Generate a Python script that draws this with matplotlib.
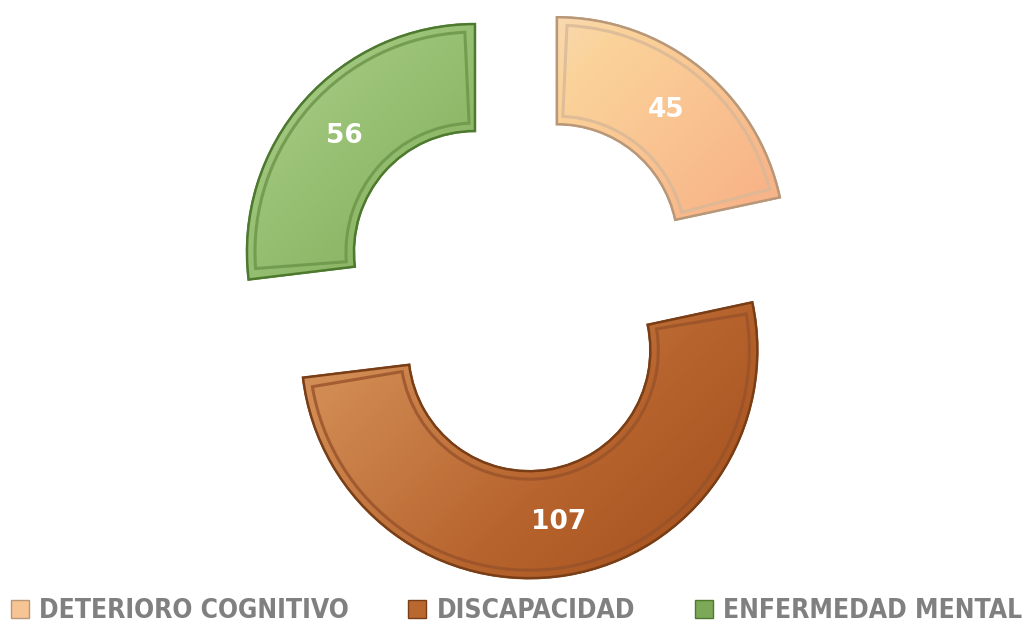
import numpy as np
import matplotlib.pyplot as plt
from matplotlib.colors import LinearSegmentedColormap
from matplotlib.patches import Patch, Wedge

# data
labels = ['DETERIORO COGNITIVO', 'DISCAPACIDAD', 'ENFERMEDAD MENTAL']
values = [45, 107, 56]
base_colors = ['#f7c494', '#b9682f', '#7da857']
grad_colors = [['#f6eaf4', '#fbd39a', '#f8b488', '#f7c49a'],
               ['#e2a878', '#d08a52', '#b8642e', '#a04e1c'],
               ['#acd08c', '#90ba6a', '#78a452', '#66923d']]
edge_colors = ['#b89878', '#7a3e16', '#4e7a30']
bevel_colors = ['#d8b898', '#98522a', '#6a9448']

total = sum(values)

fig = plt.figure(figsize=(10.33, 6.24), dpi=100)
ax = fig.add_axes([0, 0, 1, 1])

R = 228
W = 107
cx, cy = 519.5, 624 - 291.5
wedges, texts, autotexts = ax.pie(
    values, radius=R, center=(cx, cy), startangle=90, counterclock=False,
    explode=[59.5] * 3, colors=base_colors,
    wedgeprops=dict(width=W, linewidth=1.5),
    autopct=lambda p: '{:d}'.format(int(round(p * total / 100))),
    pctdistance=0.765, textprops=dict(color='white', fontsize=19, fontweight='bold'))

ax.set_xlim(0, 1033)
ax.set_ylim(0, 624)
ax.set_aspect('equal')
ax.axis('off')

gx, gy = np.meshgrid(np.linspace(0, 1, 200), np.linspace(0, 1, 200))
grad = (gx + gy) / 2

for w, gc, ec, bc in zip(wedges, grad_colors, edge_colors, bevel_colors):
    w.set_edgecolor(ec)
    z = w.get_zorder()
    cmap = LinearSegmentedColormap.from_list('g', gc)
    wx, wy = w.center
    im = ax.imshow(grad, cmap=cmap, origin='upper', aspect='auto',
                   extent=(wx - R, wx + R, wy - R, wy + R), zorder=z + 0.1)
    im.set_clip_path(w)
    ax.add_patch(Wedge(w.center, w.r, w.theta1, w.theta2, width=W, fill=False,
                       edgecolor=ec, linewidth=1.8, zorder=z + 0.3))
    # inner bevel line
    ins = 8
    dth = np.degrees(ins / (R - W / 2))
    ax.add_patch(Wedge(w.center, w.r - ins, w.theta1 + dth, w.theta2 - dth,
                       width=W - 2 * ins, fill=False, edgecolor=bc,
                       linewidth=2.2, alpha=0.8, zorder=z + 0.2))

for t in autotexts:
    t.set_zorder(10)

handles = [Patch(facecolor=c, edgecolor=e, linewidth=1) for c, e in zip(base_colors, edge_colors)]
leg = fig.legend(handles, labels, loc='lower center', ncol=3, frameon=False,
                 bbox_to_anchor=(0.5, -0.038), handlelength=0.68, handleheight=0.68,
                 handletextpad=0.4, columnspacing=2.25,
                 prop=dict(family='DejaVu Sans', weight='bold', size=19,
                           stretch='condensed'))
for t in leg.get_texts():
    t.set_color('#808080')

fig.savefig('out.png', dpi=100)
